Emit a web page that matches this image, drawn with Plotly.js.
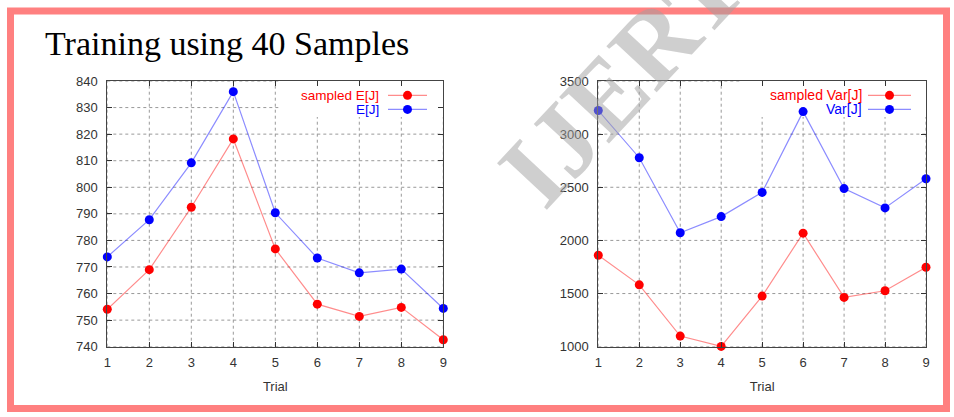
<!DOCTYPE html>
<html>
<head>
<meta charset="utf-8">
<script src="https://cdn.plot.ly/plotly-3.0.1.min.js"></script>
<style>html,body{margin:0;padding:0;background:#fff;}#chart{width:954px;height:417px;}</style>
</head>
<body>
<div id="chart"></div>
<script>
// ---- data ----
const trials = [1, 2, 3, 4, 5, 6, 7, 8, 9];
const sampledE = [754.1, 769.0, 792.5, 818.2, 776.8, 756.0, 751.4, 754.8, 742.6];
const expectedE = [773.8, 787.8, 809.2, 836.0, 790.4, 773.4, 767.8, 769.2, 754.4];
const sampledVar = [1860, 1582, 1100, 1003, 1476, 2068, 1464, 1526, 1748];
const expectedVar = [3222, 2778, 2072, 2224, 2452, 3212, 2488, 2306, 2580];
const leftTicks = [740, 750, 760, 770, 780, 790, 800, 810, 820, 830, 840];
const rightTicks = [1000, 1500, 2000, 2500, 3000, 3500];
const leftNames = ['sampled E[J]', 'E[J]'];
const rightNames = ['sampled Var[J]', 'Var[J]'];
const titleText = 'Training using 40 Samples';
const xTitle = 'Trial';
const watermark = 'IJERT';

const RED = '#ff0000', BLUE = '#0000ff';
const RED_L = 'rgba(255,0,0,0.45)', BLUE_L = 'rgba(0,0,255,0.45)';
const SANS = 'Liberation Sans, Arial, sans-serif';
const SERIF = 'Liberation Serif, Times New Roman, serif';

function tr(y, xa, ya, lc, mc, name) {
  return {x: trials, y: y, xaxis: xa, yaxis: ya, type: 'scatter', mode: 'lines+markers', name: name,
    line: {color: lc, width: 1.2}, marker: {color: mc, size: 9}, showlegend: false, cliponaxis: false};
}
const data = [
  tr(sampledE, 'x', 'y', RED_L, RED, leftNames[0]),
  tr(expectedE, 'x', 'y', BLUE_L, BLUE, leftNames[1]),
  tr(sampledVar, 'x2', 'y2', RED_L, RED, rightNames[0]),
  tr(expectedVar, 'x2', 'y2', BLUE_L, BLUE, rightNames[1])
];

const tickFont = {family: SANS, size: 13, color: '#333'};
function xax(domain, anchor) {
  return {domain: domain, anchor: anchor, range: [1, 9], tickvals: trials, ticks: 'inside', ticklen: 5,
    tickcolor: '#333', showline: true, linecolor: '#444', linewidth: 1, mirror: 'ticks',
    showgrid: false, zeroline: false, tickfont: tickFont, ticklabelstandoff: 4,
    title: {text: xTitle, font: tickFont, standoff: 12}};
}
function yax(domain, anchor, range, ticks) {
  return {domain: domain, anchor: anchor, range: range, tickvals: ticks, ticks: 'inside', ticklen: 5,
    tickcolor: '#333', showline: true, linecolor: '#444', linewidth: 1, mirror: 'ticks',
    showgrid: false, zeroline: false, tickfont: tickFont, ticklabelstandoff: 6};
}
const yDom = [1 - 346.7 / 417, 1 - 81 / 417];

// dotted grid drawn as shapes at the tick values (so the legend box can mask it)
function grid(xa, ya, xticks, yticks) {
  const s = [];
  const ln = {color: '#999', width: 1, dash: 'dot'};
  xticks.forEach(v => s.push({type: 'line', xref: xa, yref: ya + ' domain', x0: v, x1: v, y0: 0, y1: 1, line: ln, layer: 'below'}));
  yticks.forEach(v => s.push({type: 'line', xref: xa + ' domain', yref: ya, x0: 0, x1: 1, y0: v, y1: v, line: ln, layer: 'below'}));
  return s;
}
function legendBox(xa, ya, x0) {
  return {type: 'rect', xref: xa + ' domain', yref: ya + ' domain', x0: x0, x1: 1, y0: 0.8645, y1: 1,
    fillcolor: '#fff', line: {width: 0}, layer: 'below'};
}
function legendItems(xa, ya, names, textRight, lineL, lineR, fs) {
  const out = {ann: [], shapes: []};
  const rows = [0.946, 0.893];
  const cols = [RED, BLUE], lcols = [RED_L, BLUE_L];
  names.forEach((n, i) => {
    out.ann.push({xref: xa + ' domain', yref: ya + ' domain', x: textRight, y: rows[i], xanchor: 'right', yanchor: 'middle',
      text: n, showarrow: false, font: {family: SANS, size: fs, color: cols[i]}});
    out.shapes.push({type: 'line', xref: xa + ' domain', yref: ya + ' domain', x0: lineL, x1: lineR, y0: rows[i], y1: rows[i],
      line: {color: lcols[i], width: 1.2}, layer: 'above'});
    const xm = (lineL + lineR) / 2;
    out.shapes.push({type: 'circle', xref: xa + ' domain', yref: ya + ' domain', xsizemode: 'pixel', ysizemode: 'pixel',
      xanchor: xm, yanchor: rows[i], x0: -4.5, x1: 4.5, y0: -4.5, y1: 4.5, fillcolor: cols[i], line: {width: 0}, layer: 'above'});
  });
  return out;
}
// left: plot x 107.3..443.3 (336px) ; right 598.3..926 (327.7px)
const LW = 336, RW = 327.7;
const L = legendItems('x', 'y', leftNames, (381 - 107.3) / LW, (388 - 107.3) / LW, (427 - 107.3) / LW, 13.5);
const R = legendItems('x2', 'y2', rightNames, (864 - 598.3) / RW, (868 - 598.3) / RW, (911 - 598.3) / RW, 14);

const shapes = [].concat(
  grid('x', 'y', trials, leftTicks),
  grid('x2', 'y2', trials, rightTicks),
  [legendBox('x', 'y', (280 - 107.3) / LW), legendBox('x2', 'y2', (740 - 598.3) / RW)],
  L.shapes, R.shapes,
  [{type: 'rect', xref: 'paper', yref: 'paper', x0: 10.5 / 954, x1: 946.5 / 954, y0: 1 - 408.5 / 417, y1: 1 - 11 / 417,
    line: {color: '#ff8080', width: 7}, fillcolor: 'rgba(0,0,0,0)', layer: 'above'}]
);

const annotations = [].concat(L.ann, R.ann, [
  {xref: 'paper', yref: 'paper', x: 43 / 954, y: 1 - 43 / 417, xanchor: 'left', yanchor: 'middle', showarrow: false,
    text: titleText, font: {family: SERIF, size: 34, color: '#000'}},
  {xref: 'paper', yref: 'paper', x: 622 / 954, y: 1 - 78 / 417, xanchor: 'center', yanchor: 'middle', showarrow: false,
    text: watermark, textangle: -47, font: {family: SERIF, size: 104, weight: 'bold', color: 'rgba(160,160,160,0.5)'}}
]);

const layout = {
  width: 954, height: 417, margin: {l: 0, r: 0, t: 0, b: 0}, paper_bgcolor: '#fff', plot_bgcolor: '#fff',
  showlegend: false,
  xaxis: xax([107.3 / 954, 443.3 / 954], 'y'),
  yaxis: yax(yDom, 'x', [740, 840], leftTicks),
  xaxis2: xax([598.3 / 954, 926 / 954], 'y2'),
  yaxis2: yax(yDom, 'x2', [1000, 3500], rightTicks),
  shapes: shapes, annotations: annotations
};
Plotly.newPlot('chart', data, layout, {staticPlot: true, displayModeBar: false});
</script>
</body>
</html>
